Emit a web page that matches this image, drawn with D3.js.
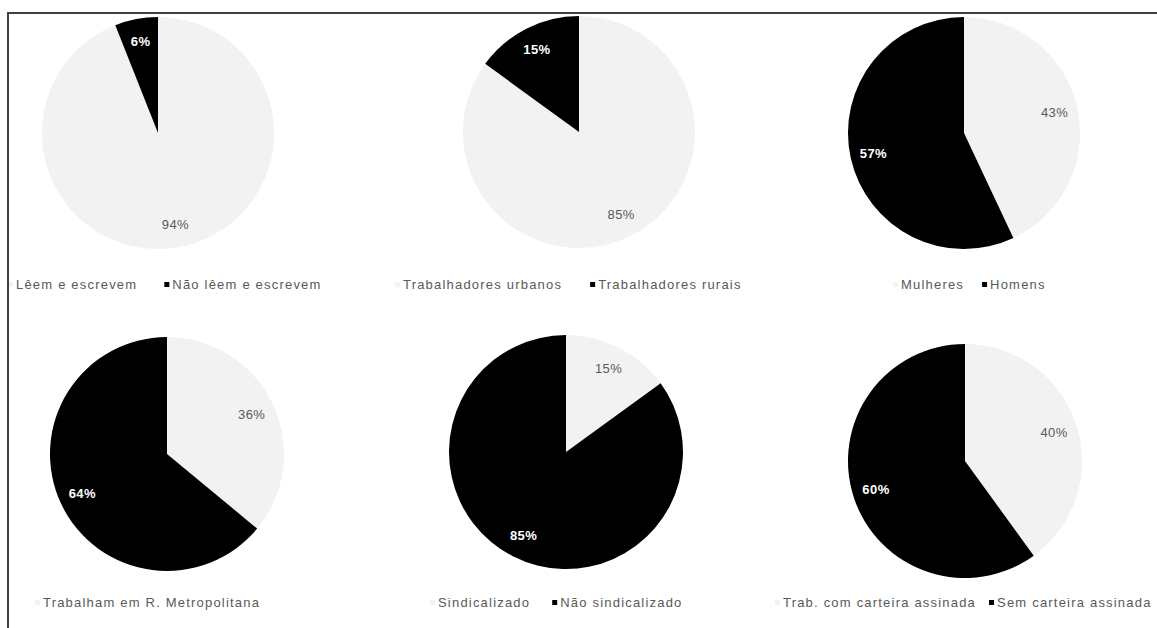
<!DOCTYPE html>
<html>
<head>
<meta charset="utf-8">
<script src="https://cdn.jsdelivr.net/npm/d3@7"></script>
<style>
  body { margin: 0; background: #fff; }
  text { font-family: "Liberation Sans", Arial, sans-serif; }
</style>
</head>
<body>
<svg width="1157" height="628"></svg>
<script>
// data
var categories = [
    ['Lêem e escrevem', 'Não lêem e escrevem'],
    ['Trabalhadores urbanos', 'Trabalhadores rurais'],
    ['Mulheres', 'Homens'],
    ['Trabalham em R. Metropolitana', 'Não trabalham em R. Metropolitana'],
    ['Sindicalizado', 'Não sindicalizado'],
    ['Trab. com carteira assinada', 'Sem carteira assinada']
];
var values = [
    [94, 6],
    [85, 15],
    [43, 57],
    [36, 64],
    [15, 85],
    [40, 60]
];
// how many legend entries the original shows
var legendShown = [2, 2, 2, 1, 2, 2];

var colors = ['#f2f2f2', '#000000'];

// layout of each panel: pie centre, radius, legend start, baseline and gap
var layout = [
    {cx: 158, cy: 133, r: 116, lx: 8,   ly: 289, gap: 27},
    {cx: 579, cy: 132, r: 116, lx: 395, ly: 289, gap: 28},
    {cx: 964, cy: 133, r: 116, lx: 893, ly: 289, gap: 18},
    {cx: 167, cy: 454, r: 117, lx: 35,  ly: 607, gap: 20},
    {cx: 566, cy: 452, r: 117, lx: 430, ly: 607, gap: 22},
    {cx: 965, cy: 461, r: 117, lx: 775, ly: 607, gap: 13}
];

var svg = d3.select('svg');

var pie = d3.pie().sort(null).value(function(d){ return d; });

values.forEach(function(vals, i) {
    var L = layout[i];
    var g = svg.append('g')
        .attr('transform', 'translate(' + L.cx + ',' + L.cy + ')');

    var arc = d3.arc().innerRadius(0).outerRadius(L.r);
    var labelArc = d3.arc().innerRadius(L.r * 0.8).outerRadius(L.r * 0.8);

    var arcs = pie(vals);

    g.selectAll('path')
        .data(arcs)
        .enter()
        .append('path')
        .attr('d', arc)
        .attr('fill', function(d, j){ return colors[j]; });

    g.selectAll('text')
        .data(arcs)
        .enter()
        .append('text')
        .attr('transform', function(d){ return 'translate(' + labelArc.centroid(d) + ')'; })
        .attr('text-anchor', 'middle')
        .attr('dy', '0.35em')
        .attr('font-size', 13)
        .attr('letter-spacing', 0.4)
        .attr('font-weight', function(d, j){ return j == 1 ? 'bold' : 'normal'; })
        .attr('fill', function(d, j){ return j == 1 ? '#ffffff' : '#595959'; })
        .text(function(d){ return d.data + '%'; });

    // legend
    var leg = svg.append('g')
        .attr('transform', 'translate(' + L.lx + ',' + L.ly + ')');
    var x = 0;
    categories[i].slice(0, legendShown[i]).forEach(function(name, j) {
        leg.append('rect')
            .attr('x', x)
            .attr('y', -7)
            .attr('width', 5)
            .attr('height', 5)
            .attr('fill', colors[j]);
        var t = leg.append('text')
            .attr('x', x + 8)
            .attr('y', 0)
            .attr('font-size', 13)
            .attr('letter-spacing', 1.2)
            .attr('fill', '#595959')
            .text(name);
        x += 8 + t.node().getComputedTextLength() + L.gap;
    });
});

// frame lines on top and left
svg.append('line')
    .attr('x1', 7).attr('y1', 13).attr('x2', 1157).attr('y2', 13)
    .attr('stroke', '#404040').attr('stroke-width', 2);
svg.append('line')
    .attr('x1', 8).attr('y1', 12).attr('x2', 8).attr('y2', 628)
    .attr('stroke', '#404040').attr('stroke-width', 2);
</script>
</body>
</html>
